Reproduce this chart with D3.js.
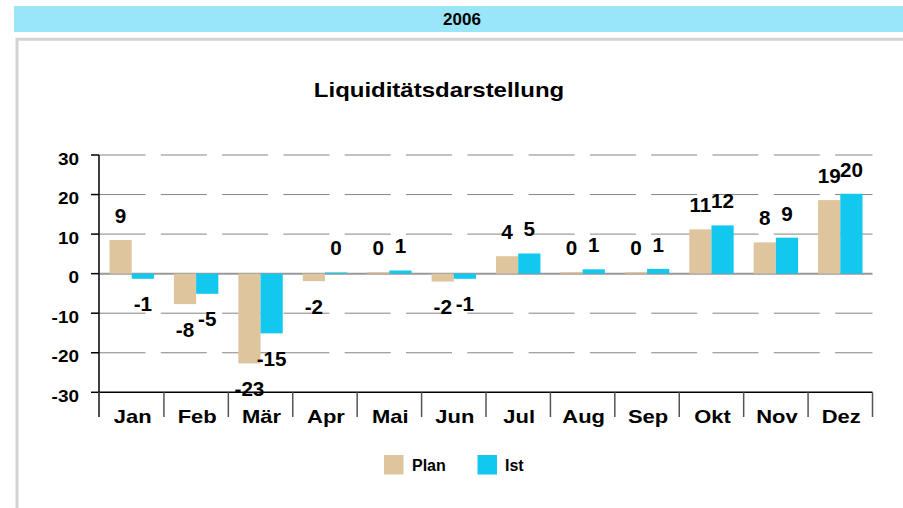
<!doctype html>
<html lang="de">
<head>
<meta charset="utf-8">
<title>Liquiditätsdarstellung 2006</title>
<script src="https://cdn.jsdelivr.net/npm/d3@7"></script>
<style>
  body { margin: 0; background: #fff; }
  text { font-family: Arial, "Liberation Sans", Helvetica, sans-serif; font-weight: bold; fill: #000; }
</style>
</head>
<body>
<div id="chart"></div>
<script>

// data
var months = ["Jan", "Feb", "Mär", "Apr", "Mai", "Jun", "Jul", "Aug", "Sep", "Okt", "Nov", "Dez"];
var plan = [8.5, -7.7, -22.7, -1.9, 0.4, -2.0, 4.4, 0.4, 0.4, 11.2, 7.9, 18.6];
var ist = [-1.3, -5.1, -15.1, 0.3, 0.8, -1.3, 5.1, 1.1, 1.2, 12.2, 9.1, 20.2];
var seriesNames = ["Plan", "Ist"];
var yTicks = [-30, -20, -10, 0, 10, 20, 30];

var colors = { Plan: "#dfc59d", Ist: "#12c8ee" };

var width = 903, height = 508;

var svg = d3.select("#chart").append("svg")
    .attr("width", width)
    .attr("height", height);

// header band + frame
svg.append("rect").attr("x", 14).attr("y", 6).attr("width", width - 14).attr("height", 26)
    .attr("fill", "#99e6f8");
svg.append("text").attr("x", 462).attr("y", 25).attr("text-anchor", "middle")
    .style("font-size", "17px").text("2006");
svg.append("path").attr("d", "M17,508 V39.2 H903")
    .attr("fill", "none").attr("stroke", "#d3d3d3").attr("stroke-width", 3);

// stretched text helper (the chart lettering is wider than plain Arial)
function label(g, x, y, str, size, sx, anchor) {
    return g.append("text")
        .attr("transform", "translate(" + x + "," + y + ") scale(" + sx + ",1)")
        .attr("text-anchor", anchor || "middle")
        .style("font-size", size + "px")
        .text(str);
}

label(svg, 439, 97, "Liquiditätsdarstellung", 20.5, 1.17);

var x = d3.scaleBand().domain(months).range([99.5, 872.5]).padding(0);
var x1 = d3.scaleBand().domain(seriesNames).range([10, x.bandwidth() - 10]).padding(0);
var y = d3.scaleLinear().domain([-30, 30]).range([392.3, 155]);

// gridlines
var grid = svg.append("g");
yTicks.forEach(function(t) {
    if (t === -30) return;
    grid.append("line")
        .attr("x1", x.range()[0]).attr("x2", x.range()[1])
        .attr("y1", y(t)).attr("y2", y(t))
        .attr("stroke", t === 0 ? "#999" : "#858585")
        .attr("stroke-width", t === 0 ? 2 : 1)
        .attr("stroke-dasharray", t === 0 ? null : "46,15.3");
});

// bars
var groups = svg.append("g").selectAll("g")
    .data(months)
    .join("g")
    .attr("transform", function(d) { return "translate(" + x(d) + ",0)"; });

groups.selectAll("rect")
    .data(function(d, i) { return [{ k: "Plan", v: plan[i] }, { k: "Ist", v: ist[i] }]; })
    .join("rect")
    .attr("x", function(d) { return x1(d.k); })
    .attr("width", x1.bandwidth())
    .attr("y", function(d) { return y(Math.max(0, d.v)); })
    .attr("height", function(d) { return Math.abs(y(d.v) - y(0)); })
    .attr("fill", function(d) { return colors[d.k]; });

// axes
var axis = svg.append("g").attr("stroke", "#000");
axis.append("line").attr("x1", 99).attr("x2", 99).attr("y1", y(30)).attr("y2", 417).attr("stroke-width", 1.5);
axis.append("line").attr("x1", 99).attr("x2", 872.5).attr("y1", y(-30)).attr("y2", y(-30)).attr("stroke-width", 1.5);
yTicks.forEach(function(t) {
    axis.append("line").attr("x1", 91).attr("x2", 99).attr("y1", y(t)).attr("y2", y(t)).attr("stroke-width", 1.5);
    label(svg, 79, y(t) + 9.5, String(t), 16.5, 1.15, "end");
});
months.forEach(function(m, i) {
    var bx = (i === 0) ? 99 : x(m);
    axis.append("line").attr("x1", bx).attr("x2", bx).attr("y1", y(-30)).attr("y2", 417)
        .attr("stroke", "#555").attr("stroke-width", 1.5);
    label(svg, x(m) + x.bandwidth() / 2 + 1, 422.5, m, 18, 1.22);
});
axis.append("line").attr("x1", 872.5).attr("x2", 872.5).attr("y1", y(-30)).attr("y2", 417)
    .attr("stroke", "#555").attr("stroke-width", 1.5);

// value labels
groups.each(function(m, i) {
    var g = d3.select(this);
    [{ k: "Plan", v: plan[i] }, { k: "Ist", v: ist[i] }].forEach(function(d) {
        var cx = x1(d.k) + x1.bandwidth() / 2;
        var ly = d.v >= 0 ? y(d.v) - 17 : y(d.v) + 32.5;
        label(g, cx, ly, String(Math.round(d.v)), 19.5, 1.06);
    });
});

// legend
var legend = svg.append("g");
[{ k: "Plan", x: 384, tx: 412 }, { k: "Ist", x: 477.5, tx: 505 }].forEach(function(d) {
    legend.append("rect").attr("x", d.x).attr("y", 455).attr("width", 19.5).attr("height", 19.5)
        .attr("fill", colors[d.k]);
    label(legend, d.tx, 470.5, d.k, 16, 1.0, "start");
});

</script>
</body>
</html>
